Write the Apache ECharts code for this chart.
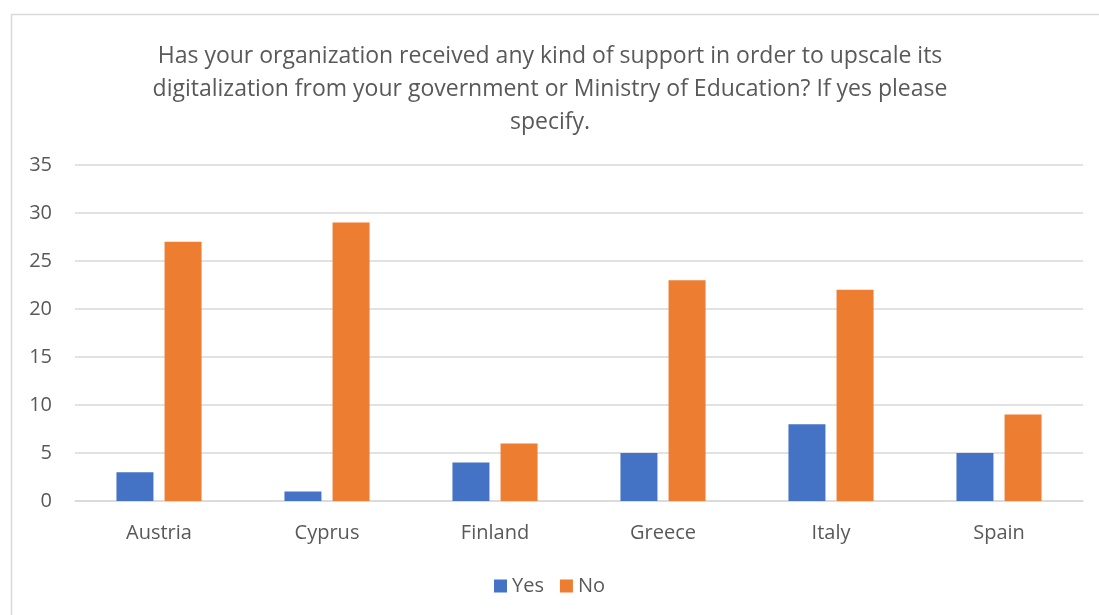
<!DOCTYPE html>
<html><head><meta charset="utf-8">
<script src="https://cdn.jsdelivr.net/npm/echarts@6/dist/echarts.min.js"></script>
<style>html,body{margin:0;padding:0;background:#fff}#c{width:1099px;height:615px}</style>
</head><body><div id="c"></div>
<script>
const categories = ['Austria', 'Cyprus', 'Finland', 'Greece', 'Italy', 'Spain'];
const yesValues = [3, 1, 4, 5, 8, 5];
const noValues = [27, 29, 6, 23, 22, 9];
const titleLines = ['Has your organization received any kind of support in order to upscale its', 'digitalization from your government or Ministry of Education? If yes please', 'specify.'];
const FONT = 'Open Sans';
const chart = echarts.init(document.getElementById('c'));
chart.setOption({
  animation: false,
  textStyle: { fontFamily: FONT },
  graphic: [{ type: 'rect', shape: { x: 11.5, y: 14.5, width: 1100, height: 620 }, style: { fill: 'none', stroke: '#d9d9d9', lineWidth: 1.5 } }],
  title: {
    text: titleLines.join('\n'), left: 545, top: 35, textAlign: 'center',
    textStyle: { fontFamily: FONT, fontSize: 23, fontWeight: 'normal', color: '#595959', lineHeight: 33 }
  },
  legend: {
    data: ['Yes', 'No'], bottom: 14, left: 'center', itemWidth: 13, itemHeight: 13, itemGap: 16,
    icon: 'rect', textStyle: { fontFamily: FONT, fontSize: 20, color: '#595959' }
  },
  grid: { left: 75, right: 16, top: 165, bottom: 114, containLabel: false },
  xAxis: {
    type: 'category', data: categories,
    axisLine: { lineStyle: { color: '#d9d9d9', width: 1.5 } }, axisTick: { show: false },
    axisLabel: { fontFamily: FONT, fontSize: 20, color: '#595959', margin: 22 }
  },
  yAxis: {
    type: 'value', min: 0, max: 35, interval: 5,
    axisLine: { show: false }, axisTick: { show: false },
    splitLine: { lineStyle: { color: '#d9d9d9', width: 1.5 } },
    axisLabel: { fontFamily: FONT, fontSize: 20, color: '#595959', margin: 23 }
  },
  series: [
    { name: 'Yes', type: 'bar', data: yesValues, barWidth: 37, barGap: '30%', itemStyle: { color: '#4472C4' } },
    { name: 'No', type: 'bar', data: noValues, barWidth: 37, barGap: '30%', itemStyle: { color: '#ED7D31' } }
  ]
});
</script></body></html>
